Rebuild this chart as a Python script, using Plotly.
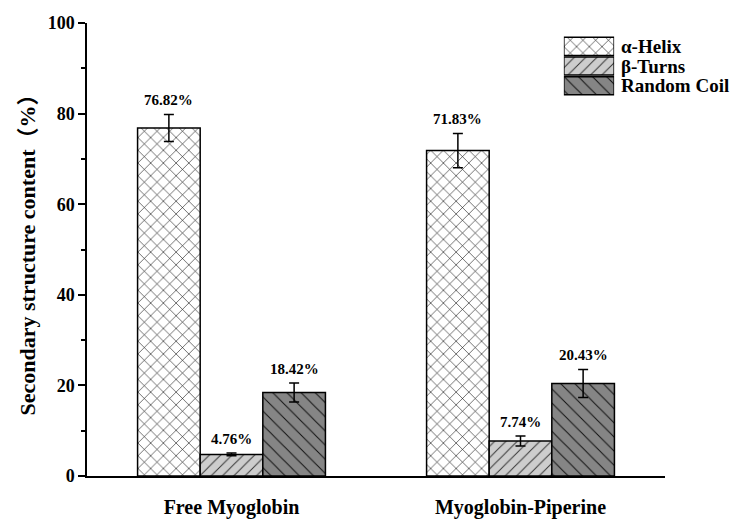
import plotly.graph_objects as go

categories = ["Free Myoglobin", "Myoglobin-Piperine"]
series_names = ["α-Helix", "β-Turns", "Random Coil"]
helix = [76.82, 71.83]
turns = [4.76, 7.74]
coil = [18.42, 20.43]
helix_err = [3.0, 3.8]
turns_err = [0.3, 1.1]
coil_err = [2.1, 3.1]
y_ticks = [0, 20, 40, 60, 80, 100]

values = [helix, turns, coil]
errors = [helix_err, turns_err, coil_err]
styles = [
    dict(bg="#ffffff", fg="#000000", shape="x", size=9, sol=0.12),
    dict(bg="#cdcdcd", fg="#333333", shape="/", size=8, sol=0.12),
    dict(bg="#858585", fg="#111111", shape="\\", size=10, sol=0.1),
]
FONT = "Liberation Serif"


def pattern(s):
    return dict(shape=s["shape"], bgcolor=s["bg"], fgcolor=s["fg"],
                size=s["size"], solidity=s["sol"], fillmode="replace")


fig = go.Figure()
for name, v, e, s in zip(series_names, values, errors, styles):
    fig.add_trace(go.Bar(
        x=categories, y=v, name=name, showlegend=False,
        marker=dict(color=s["bg"], line=dict(color="black", width=1.5), pattern=pattern(s)),
        error_y=dict(type="data", array=e, visible=True, color="black", thickness=1.5, width=5),
        offsetgroup=name,
    ))

# legend swatches drawn as a small horizontal bar chart on its own axes
for name, s in zip(series_names, styles):
    fig.add_trace(go.Bar(
        y=[name], x=[1], orientation="h", xaxis="x2", yaxis="y2", showlegend=False,
        hoverinfo="skip", width=0.92,
        marker=dict(color=s["bg"], line=dict(color="black", width=1.5), pattern=pattern(s)),
    ))
    fig.add_annotation(
        x=1, xref="x2", y=name, yref="y2", text=f"<b>{name}</b>", showarrow=False,
        xanchor="left", xshift=5, font=dict(family=FONT, size=19, color="black"),
    )

# value labels
n = len(series_names)
for i, (v, e) in enumerate(zip(values, errors)):
    for j, cat in enumerate(categories):
        fig.add_annotation(
            x=j + (i - (n - 1) / 2) * 0.65 / n, xref="x", y=v[j] + e[j], yref="y",
            text=f"<b>{v[j]:.2f}%</b>", showarrow=False, yanchor="bottom", yshift=4,
            font=dict(family=FONT, size=15, color="black"),
        )

fig.update_layout(
    width=752, height=523,
    margin=dict(l=79, r=95, t=15, b=55),
    paper_bgcolor="white", plot_bgcolor="white",
    barmode="group", bargap=0.35, bargroupgap=0,
    font=dict(family=FONT, color="black"),
    showlegend=False,
    xaxis2=dict(domain=[0.825, 0.912], range=[0, 1], anchor="y2", showgrid=False,
                zeroline=False, showticklabels=False, showline=False, fixedrange=True),
    yaxis2=dict(domain=[0.834, 0.976], anchor="x2", type="category",
                categoryorder="array", categoryarray=series_names[::-1],
                showgrid=False, zeroline=False, showline=False, ticks="",
                showticklabels=False, automargin=False),
    xaxis=dict(
        type="category", range=[-0.5, 1.5], showline=True, linecolor="black", linewidth=1.5,
        ticks="", showgrid=False, zeroline=False, ticklabelstandoff=12, automargin=False,
        tickfont=dict(family=FONT, size=20, color="black", weight="bold"),
    ),
    yaxis=dict(
        range=[0, 100], tickvals=y_ticks, showline=True, linecolor="black", linewidth=1.5,
        ticks="outside", ticklen=7, tickwidth=1.5, tickcolor="black",
        minor=dict(dtick=10, ticks="outside", ticklen=4, tickwidth=1.5, tickcolor="black"),
        showgrid=False, zeroline=False, automargin=False,
        tickfont=dict(family=FONT, size=18, color="black", weight="bold"),
        title=dict(text="Secondary structure content（%）", standoff=6,
                   font=dict(family=FONT + ", Noto Sans CJK SC", size=22, color="black",
                             weight="bold")),
    ),
)
fig.write_html("out.html")
